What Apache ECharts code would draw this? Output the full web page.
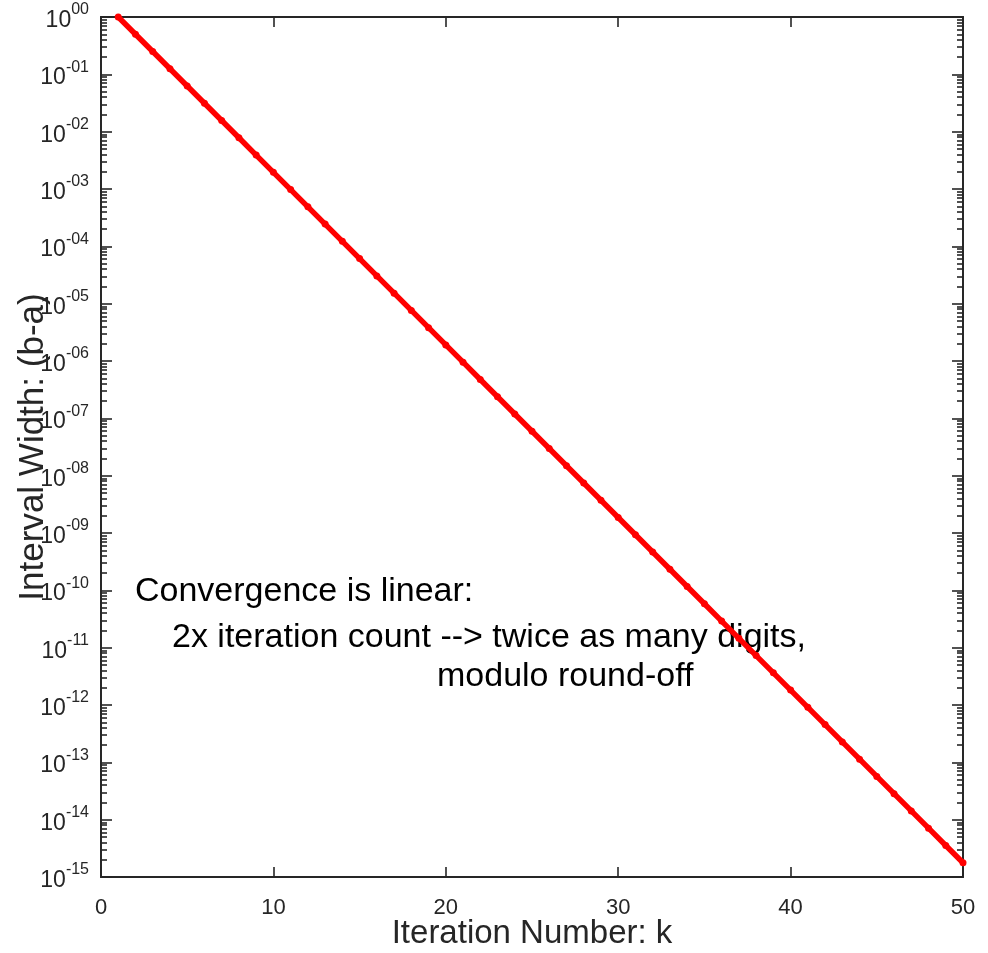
<!DOCTYPE html>
<html>
<head>
<meta charset="utf-8">
<script src="https://cdn.jsdelivr.net/npm/echarts@6/dist/echarts.min.js"></script>
<style>
  html, body { margin: 0; padding: 0; background: #fff; }
  #chart { width: 988px; height: 953px; }
</style>
</head>
<body>
<div id="chart"></div>
<script>
// iteration number k
var iterations = [1, 2, 3, 4, 5, 6, 7, 8, 9, 10, 11, 12, 13, 14, 15, 16, 17, 18, 19, 20,
  21, 22, 23, 24, 25, 26, 27, 28, 29, 30, 31, 32, 33, 34, 35, 36, 37, 38, 39, 40,
  41, 42, 43, 44, 45, 46, 47, 48, 49, 50]
// interval width (b-a)
var widths = [1, 0.5, 0.25, 0.125, 0.0625, 0.03125, 0.015625, 0.0078125, 0.00390625, 0.001953,
  9.766e-4, 4.883e-4, 2.441e-4, 1.221e-4, 6.104e-5, 3.052e-5, 1.526e-5, 7.629e-6, 3.815e-6, 1.907e-6,
  9.537e-7, 4.768e-7, 2.384e-7, 1.192e-7, 5.960e-8, 2.980e-8, 1.490e-8, 7.451e-9, 3.725e-9, 1.863e-9,
  9.313e-10, 4.657e-10, 2.328e-10, 1.164e-10, 5.821e-11, 2.910e-11, 1.455e-11, 7.276e-12, 3.638e-12, 1.819e-12,
  9.095e-13, 4.547e-13, 2.274e-13, 1.137e-13, 5.684e-14, 2.842e-14, 1.421e-14, 7.105e-15, 3.553e-15, 1.776e-15]
// y tick exponents (10^e)
var yExponents = [-15, -14, -13, -12, -11, -10, -9, -8, -7, -6, -5, -4, -3, -2, -1, 0]
var xTicks = [0, 10, 20, 30, 40, 50]
var notes = ['Convergence is linear:', '2x iteration count --> twice as many digits,', 'modulo round-off']

var axisColor = '#262626'
var font = 'Liberation Sans, Arial, Helvetica, sans-serif'

var majorVals = yExponents.map(function (e) { return Math.pow(10, e) })
var minorVals = []
yExponents.slice(0, -1).forEach(function (e) {
  for (var m = 2; m <= 9; m++) minorVals.push(m * Math.pow(10, e))
})

function expLabel(v) {
  var e = Math.round(Math.log10(v))
  var s = e < 0 ? '-' + String(-e).padStart(2, '0') : String(e).padStart(2, '0')
  return '{b|10}{s|' + s + '}'
}

function yAxisOf(pos, major) {
  return {
    type: 'log',
    logBase: 10,
    position: pos,
    min: 1e-15,
    max: 1,
    axisLine: { show: true, lineStyle: { color: axisColor, width: 1.8 } },
    axisTick: {
      show: true, inside: true, length: major ? 11 : 6,
      customValues: major ? majorVals : minorVals,
      lineStyle: { color: axisColor, width: 1.6 }
    },
    axisLabel: major && pos === 'left' ? {
      show: true,
      customValues: majorVals,
      formatter: expLabel,
      margin: 12,
      rich: {
        b: { fontSize: 23, fontFamily: font, color: axisColor, verticalAlign: 'bottom', lineHeight: 30, padding: [8, 0, 0, 0] },
        s: { fontSize: 16, fontFamily: font, color: axisColor, verticalAlign: 'top', lineHeight: 30, padding: [0, 0, 10, 0] }
      }
    } : { show: false },
    splitLine: { show: false },
    name: major && pos === 'left' ? 'Interval Width: (b-a)' : '',
    nameLocation: 'middle',
    nameGap: 50,
    nameMoveOverlap: false,
    nameTextStyle: { fontSize: 35, fontFamily: font, color: axisColor }
  }
}

var chart = echarts.init(document.getElementById('chart'))
var option = {
  animation: false,
  backgroundColor: '#fff',
  grid: { left: 101, right: 25, top: 17, bottom: 76, containLabel: false, outerBoundsMode: 'none' },
  xAxis: [
    {
      type: 'value', position: 'bottom', min: 0, max: 50, interval: 10,
      axisLine: { show: true, lineStyle: { color: axisColor, width: 1.8 } },
      axisTick: { show: true, inside: true, length: 10, lineStyle: { color: axisColor, width: 1.6 } },
      axisLabel: { fontSize: 22, fontFamily: font, color: axisColor, margin: 20, formatter: function (v) { return xTicks.indexOf(v) >= 0 ? String(v) : '' } },
      splitLine: { show: false },
      name: 'Iteration Number: k',
      nameLocation: 'middle',
      nameGap: 40,
      nameMoveOverlap: false,
      nameTextStyle: { fontSize: 33, fontFamily: font, color: axisColor, verticalAlign: 'top' }
    },
    {
      type: 'value', position: 'top', min: 0, max: 50, interval: 10,
      axisLine: { show: true, lineStyle: { color: axisColor, width: 1.8 } },
      axisTick: { show: true, inside: true, length: 10, lineStyle: { color: axisColor, width: 1.6 } },
      axisLabel: { show: false },
      splitLine: { show: false }
    }
  ],
  yAxis: [yAxisOf('left', true), yAxisOf('left', false), yAxisOf('right', true), yAxisOf('right', false)],
  series: [{
    type: 'line',
    xAxisIndex: 0,
    yAxisIndex: 0,
    data: iterations.map(function (k, i) { return [k, widths[i]] }),
    symbol: 'circle',
    symbolSize: 7,
    itemStyle: { color: '#ff0000' },
    lineStyle: { color: '#ff0000', width: 5.5 },
    clip: false
  }],
  graphic: [
    { type: 'text', x: 135, y: 592, style: { text: notes[0], fontSize: 34, fontFamily: font, fill: '#000', verticalAlign: 'middle' } },
    { type: 'text', x: 172, y: 638, style: { text: notes[1], fontSize: 34, fontFamily: font, fill: '#000', verticalAlign: 'middle' } },
    { type: 'text', x: 437, y: 677, style: { text: notes[2], fontSize: 34, fontFamily: font, fill: '#000', verticalAlign: 'middle' } }
  ]
}
chart.setOption(option)
</script>
</body>
</html>
